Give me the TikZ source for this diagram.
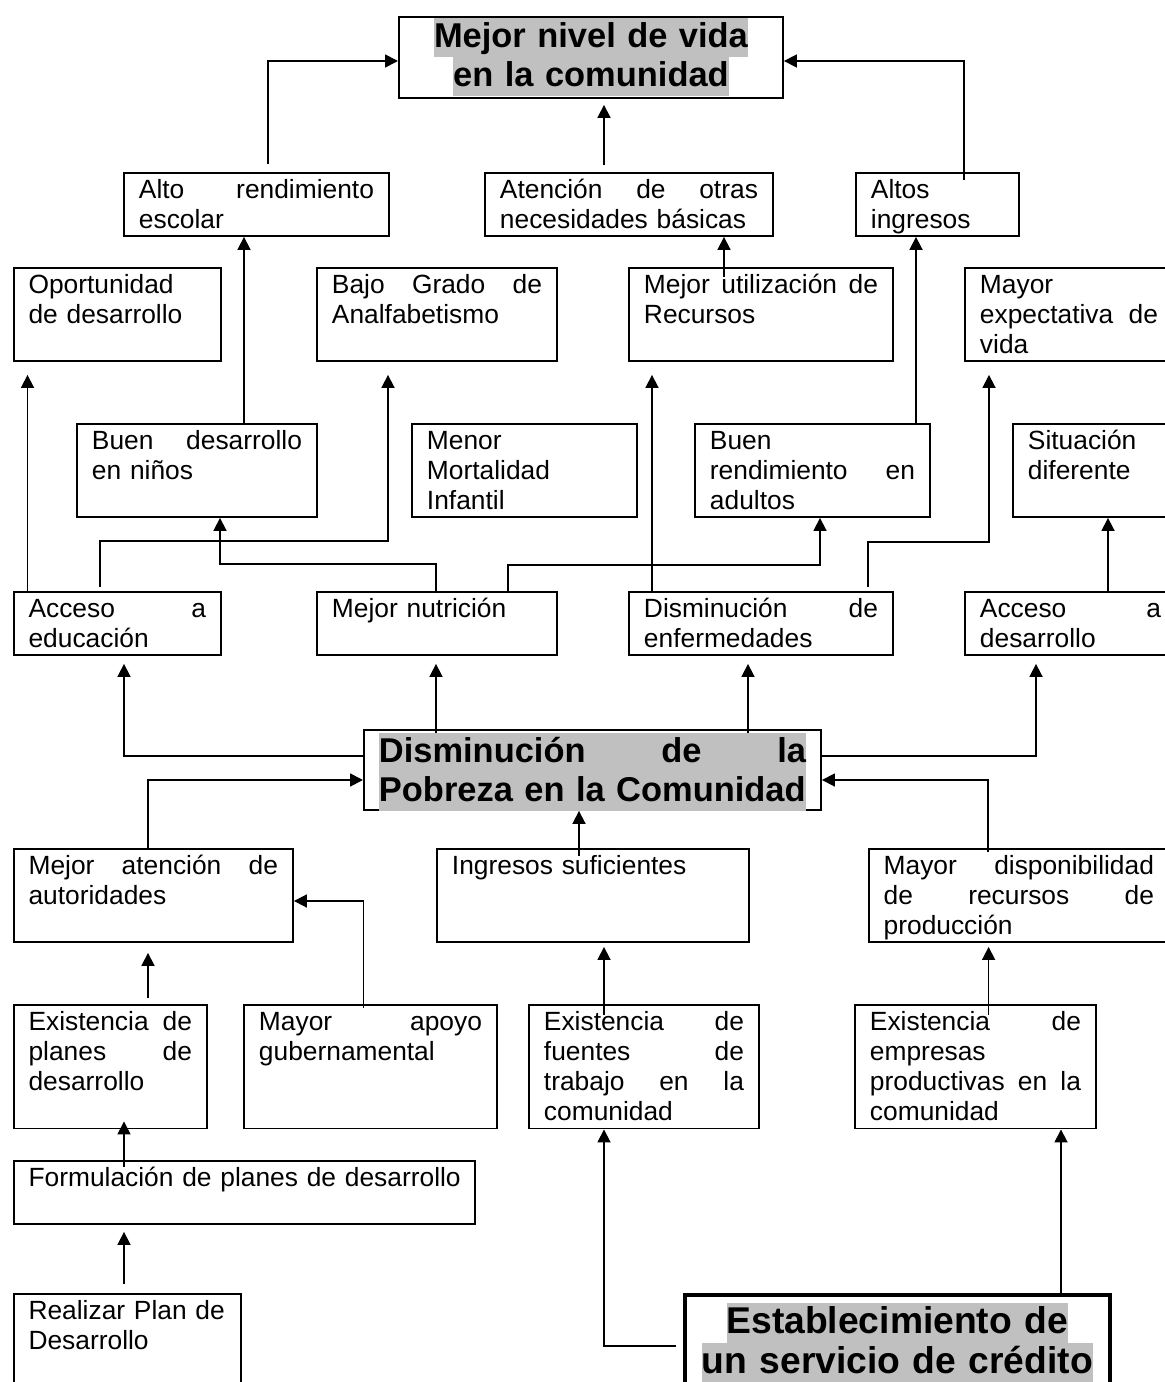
\documentclass[tikz,border=0pt]{standalone}
\usepackage{fontspec}
\setmainfont{Liberation Sans}
\usetikzlibrary{arrows.meta}
\definecolor{hlgray}{RGB}{192,192,192}
\newcommand{\cellfont}{\fontsize{15}{17.07}\selectfont}
\newcommand{\headfont}{\fontsize{19.6}{22.2}\selectfont\bfseries}
\newcommand{\creditfont}{\fontsize{21.2}{22.76}\selectfont\bfseries}
\newcommand{\hlbox}[1]{{\setlength{\fboxsep}{0pt}\colorbox{hlgray}{\rule[-0.22\baselineskip]{0pt}{\baselineskip}#1}}}

\begin{document}
\begin{tikzpicture}[x=0.02cm, y=-0.02cm,
  cell/.style 2 args={draw, line width=1.1pt, anchor=north west, align=left,
    inner xsep=0.3cm, inner ysep=0pt, font=\cellfont,
    text width={0.02cm*#1-0.6cm}, text height=0.52cm, text depth={0.02cm*#2-0.52cm}},
  head/.style 2 args={cell={#1}{#2}, align=center, font=\headfont,
    text height=0.62cm, text depth={0.02cm*#2-0.62cm}},
  arr/.style={-{Triangle[length=0.26cm, width=0.26cm]}, line width=1pt}]
  \useasboundingbox (0,0) rectangle (1165,1382);
  \clip (0,0) rectangle (1165,1382);

  % Goal
  \node[head={384}{81}] (goal) at (398,16) {\hlbox{Mejor nivel de vida}\\\hlbox{en la comunidad}};

  % Ends
  \node[cell={265}{63}] (alto) at (123,172) {Alto\hfill rendimiento\\escolar};
  \node[cell={288}{63}] (aten) at (484,172) {Atención\hfill de\hfill otras\\necesidades básicas};
  \node[cell={163}{63}] (altos) at (855,172) {Altos\\ingresos};

  \node[cell={207.4}{93}] (oport) at (12.6,267) {Oportunidad\\de desarrollo};
  \node[cell={240}{93}] (bajo) at (316,267) {Bajo\hfill Grado\hfill de\\Analfabetismo};
  \node[cell={264}{93}] (util) at (628,267) {Mejor\hfill utilización\hfill de\\Recursos};
  \node[cell={208}{93}] (mexp) at (964,267) {Mayor\\expectativa\hfill de\\vida};

  \node[cell={240}{93}] (bdes) at (76,423) {Buen\hfill desarrollo\\en niños};
  \node[cell={225}{93}] (menor) at (411,423) {Menor\\Mortalidad\\Infantil};
  \node[cell={235}{93}] (brend) at (694,423) {Buen\\rendimiento\hfill en\\adultos};
  \node[cell={165}{93}] (sit) at (1012,423) {Situación\\diferente};

  \node[cell={207.4}{63}] (acceduc) at (12.6,591) {Acceso\hfill a\\educación};
  \node[cell={240}{63}] (nutri) at (316,591) {Mejor nutrición};
  \node[cell={264}{63}] (enferm) at (628,591) {Disminución\hfill de\\enfermedades};
  \node[cell={211}{63}] (accdes) at (964,591) {Acceso\hfill a\\desarrollo};

  % Central problem
  \node[head={457}{80}, align=left, text height=0.66cm, text depth=0.94cm] (pobreza) at (363,729)
    {\hlbox{\hbox to\linewidth{Disminución\hfill de\hfill la}}\\\hlbox{Pobreza en la Comunidad}};

  % Means
  \node[cell={279.4}{93}] (matenc) at (12.6,848) {Mejor\hfill atención\hfill de\\autoridades};
  \node[cell={312}{93}] (ingr) at (436,848) {Ingresos suficientes};
  \node[cell={300.3}{93}] (mdisp) at (867.7,848) {Mayor\hfill disponibilidad\\de\hfill recursos\hfill de\\producción};

  \node[cell={193.4}{123.5}] (eplan) at (12.6,1004) {Existencia\hfill de\\planes\hfill de\\desarrollo};
  \node[cell={253}{123.5}] (mapoyo) at (243,1004) {Mayor\hfill apoyo\\gubernamental};
  \node[cell={230}{123.5}] (efuen) at (528,1004) {Existencia\hfill de\\fuentes\hfill de\\trabajo\hfill en\hfill la\\comunidad};
  \node[cell={241}{123.5}] (empr) at (854,1004) {Existencia\hfill de\\empresas\\productivas\hfill en\hfill la\\comunidad};

  \node[cell={461.4}{63}] (formul) at (12.6,1160) {\mbox{Formulación de planes de desarrollo}};
  \node[cell={227.4}{110}] (realiz) at (12.6,1293) {Realizar Plan de\\Desarrollo};
  \node[head={425}{110}, font=\creditfont, line width=2pt, text height=0.78cm, text depth=1.42cm] (estab) at (683,1293)
    {\hlbox{Establecimiento de}\\\hlbox{un servicio de crédito}};

  % Upper connectors
  \draw[arr, shorten <=0.16cm] (alto.north -| 268,0) |- (goal.west |- 0,61);
  \draw[arr, shorten <=0.14cm, shorten >=0.12cm] (aten.north -| 604,0) -- (goal.south -| 604,0);
  \draw[arr, shorten <=-0.16cm] (altos.north -| 964,0) |- (goal.east |- 0,61);
  \draw[arr, shorten <=-0.2cm] (util.north -| 724,0) -- (aten.south -| 724,0);
  \draw[arr] (brend.north -| 916,0) -- (altos.south -| 916,0);
  \draw[arr] (bdes.north -| 244,0) -- (alto.south -| 244,0);
  \draw[arr, shorten >=0.26cm] (acceduc.north -| 27.5,0) -- (oport.south -| 27.5,0);
  \draw[arr, shorten <=0.08cm, shorten >=0.26cm] (acceduc.north -| 100,0) -- ++(0,-50) -| (bajo.south -| 388,0);
  \draw[arr] (nutri.north -| 436,0) -- ++(0,-27) -| (bdes.south -| 220,0);
  \draw[arr] (nutri.north -| 508,0) -- ++(0,-26) -| (brend.south -| 820,0);
  \draw[arr, shorten >=0.26cm] (enferm.north -| 652,0) -- (util.south -| 652,0);
  \draw[arr, shorten <=0.08cm, shorten >=0.26cm] (enferm.north -| 868,0) -- ++(0,-49) -| (mexp.south -| 989,0);
  \draw[arr] (accdes.north -| 1108,0) -- (sit.south -| 1108,0);

  % From the problem
  \draw[arr, shorten >=0.16cm] (pobreza.west |- 0,756) -| (acceduc.south -| 124,0);
  \draw[arr, shorten <=-0.08cm, shorten >=0.16cm] (pobreza.north -| 436,0) -- (nutri.south -| 436,0);
  \draw[arr, shorten <=-0.08cm, shorten >=0.16cm] (pobreza.north -| 748,0) -- (enferm.south -| 748,0);
  \draw[arr, shorten >=0.16cm] (pobreza.east |- 0,756) -| (accdes.south -| 1036,0);

  % Lower connectors
  \draw[arr] (matenc.north -| 148,0) |- (pobreza.west |- 0,780);
  \draw[arr, shorten <=-0.16cm] (ingr.north -| 579,0) -- (pobreza.south -| 579,0);
  \draw[arr, shorten <=-0.08cm] (mdisp.north -| 988,0) |- (pobreza.east |- 0,780);
  \draw[arr, shorten <=-0.08cm] (mapoyo.north -| 363.6,0) |- (matenc.east |- 0,901);
  \draw[arr, shorten <=0.12cm, shorten >=0.2cm] (eplan.north -| 148,0) -- (matenc.south -| 148,0);
  \draw[arr, shorten <=-0.22cm, shorten >=0.08cm] (efuen.north -| 604,0) -- (ingr.south -| 604,0);
  \draw[arr, shorten <=-0.22cm, shorten >=0.08cm] (empr.north -| 988.6,0) -- (mdisp.south -| 988.6,0);
  \draw[arr, shorten <=-0.14cm, shorten >=-0.16cm] (formul.north -| 124,0) -- (eplan.south -| 124,0);
  \draw[arr, shorten <=0.18cm, shorten >=0.14cm] (realiz.north -| 124,0) -- (formul.south -| 124,0);
  \draw[arr, shorten <=0.14cm] (estab.west |- 0,1346) -| (efuen.south -| 604,0);
  \draw[arr] (estab.north -| 1061,0) -- (empr.south -| 1061,0);
\end{tikzpicture}
\end{document}
